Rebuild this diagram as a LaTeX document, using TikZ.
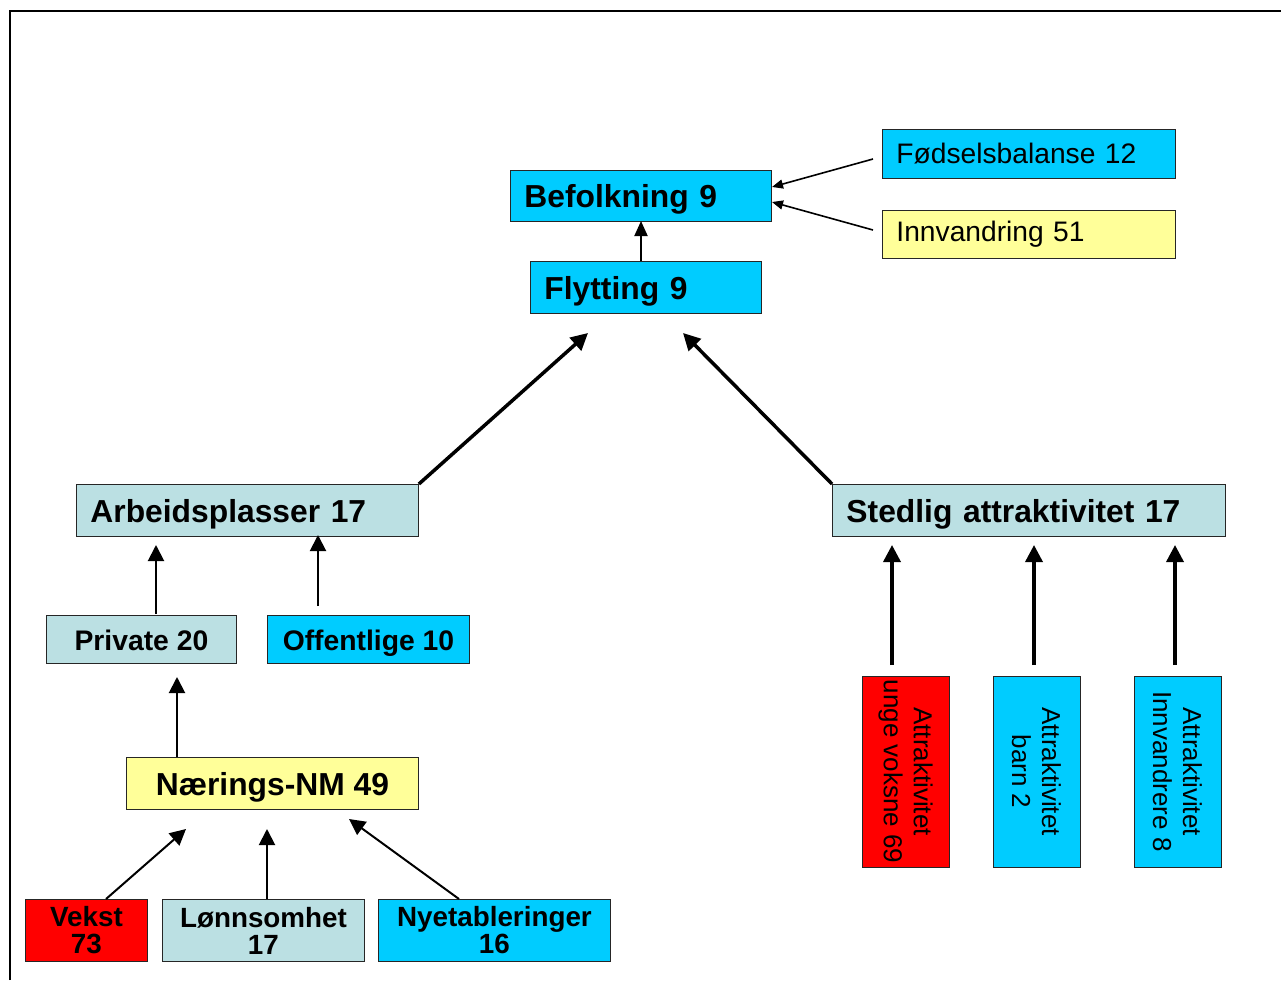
\documentclass[tikz,border=0pt]{standalone}
\usepackage{fontspec}
\setmainfont{Liberation Sans}
\usetikzlibrary{arrows.meta}
\definecolor{cyanf}{HTML}{00CCFF}
\definecolor{greyf}{HTML}{BBE0E3}
\definecolor{yellf}{HTML}{FFFF99}
\definecolor{redf}{HTML}{FF0000}
\begin{document}
\begin{tikzpicture}[x=1pt,y=-1pt,
  box/.style={draw=black!85, line width=0.9pt, anchor=north west, inner ysep=0pt},
  lbox/.style={box, inner xsep=14pt, align=left},
  cbox/.style={box, inner xsep=0pt, align=center},
  bigb/.style={font=\fontsize{31.8}{36}\selectfont\bfseries, text height=24pt, text depth=0pt},
  midb/.style={font=\fontsize{28.3}{32}\selectfont\bfseries, text height=22pt, text depth=0pt},
  twob/.style={font=\fontsize{27.8}{27}\selectfont\bfseries},
  regf/.style={font=\fontsize{28.2}{32}\selectfont},
  rotf/.style={font=\fontsize{26}{30}\selectfont},
  smallarr/.style={line width=1.6pt, -{Triangle[length=11pt,width=9pt]}},
  thin/.style={line width=2pt, -{Triangle[length=16pt,width=16pt]}},
  thick/.style={line width=3.5pt, -{Triangle[length=17pt,width=17pt]}}
]
\useasboundingbox (0,0) rectangle (1281,980);
\fill[white] (0,0) rectangle (1281,980);
\draw[line width=2.5pt] (10,980) -- (10,11) -- (1281,11);

% top
\node[lbox,bigb,fill=cyanf,text width=233pt,minimum height=51pt] (bef) at (510,170) {Befolkning 9};
\node[lbox,bigb,fill=cyanf,text width=203pt,minimum height=52pt] (fly) at (530,261) {Flytting 9};
\node[lbox,regf,fill=cyanf,text width=265pt,minimum height=49pt] (fod) at (882,129) {Fødselsbalanse 12};
\node[lbox,regf,fill=yellf,text width=265pt,minimum height=48pt] (inn) at (882,210) {Innvandring 51};

% middle
\node[lbox,bigb,fill=greyf,text width=314pt,minimum height=52pt] (arb) at (76,484) {Arbeidsplasser 17};
\node[lbox,bigb,fill=greyf,text width=365pt,minimum height=52pt] (ste) at (832,484) {Stedlig attraktivitet 17};

\node[cbox,midb,fill=greyf,minimum width=190pt,minimum height=48pt] (pri) at (46,615) {Private 20};
\node[cbox,midb,fill=cyanf,minimum width=202pt,minimum height=48pt] (off) at (267,615) {Offentlige 10};
\node[cbox,bigb,fill=yellf,minimum width=292pt,minimum height=52pt] (nae) at (126,757) {Nærings-NM 49};

% bottom
\node[cbox,twob,fill=redf,minimum width=122pt,minimum height=62pt] (vek) at (25,899) {Vekst\\73};
\node[cbox,twob,fill=greyf,minimum width=202pt,minimum height=62pt] (lon) at (162,899) {Lønnsomhet\\17};
\node[cbox,twob,fill=cyanf,minimum width=232pt,minimum height=62pt] (nye) at (378,899) {Nyetableringer\\16};

% rotated
\node[cbox,rotf,fill=redf,rotate=-90,anchor=center,minimum width=191pt,minimum height=87pt] (auv) at (905.5,771.5) {Attraktivitet\\unge voksne 69};
\node[cbox,rotf,fill=cyanf,rotate=-90,anchor=center,minimum width=191pt,minimum height=87pt] (ab) at (1036.5,771.5) {Attraktivitet\\barn 2};
\node[cbox,rotf,fill=cyanf,rotate=-90,anchor=center,minimum width=191pt,minimum height=87pt] (ai) at (1177.5,771.5) {Attraktivitet\\Innvandrere 8};

% coordinates
\coordinate (fodS) at (873,159);
\coordinate (fodE) at (772,187);
\coordinate (innS) at (873,230);
\coordinate (innE) at (772,202);
\coordinate (flyS) at (641,261);
\coordinate (befE) at (641,221);
\coordinate (flyA) at (588,333);
\coordinate (flyB) at (683,333);
\coordinate (priS) at (156,614);
\coordinate (priE) at (156,545);
\coordinate (offS) at (318,606);
\coordinate (offE) at (318,535);
\coordinate (naeS) at (177,757);
\coordinate (naeE) at (177,677);
\coordinate (vekS) at (106,899);
\coordinate (vekE) at (186,829);
\coordinate (lonS) at (267,899);
\coordinate (lonE) at (267,829);
\coordinate (nyeS) at (459,899);
\coordinate (nyeE) at (349,819);
\coordinate (auvS) at (892,665);
\coordinate (auvE) at (892,545);
\coordinate (abS) at (1034,665);
\coordinate (abE) at (1034,545);
\coordinate (aiS) at (1175,665);
\coordinate (aiE) at (1175,545);

\draw[smallarr] (fodS) -- (fodE);
\draw[smallarr] (innS) -- (innE);
\draw[line width=2pt, -{Triangle[length=15pt,width=13pt]}] (flyS) -- (befE);
\draw[thick] (arb.north east) -- (flyA);
\draw[thick] (ste.north west) -- (flyB);
\draw[thin] (priS) -- (priE);
\draw[thin] (offS) -- (offE);
\draw[thin] (naeS) -- (naeE);
\draw[thin] (vekS) -- (vekE);
\draw[thin] (lonS) -- (lonE);
\draw[thin] (nyeS) -- (nyeE);
\draw[thick] (auvS) -- (auvE);
\draw[thick] (abS) -- (abE);
\draw[thick] (aiS) -- (aiE);
\end{tikzpicture}
\end{document}
